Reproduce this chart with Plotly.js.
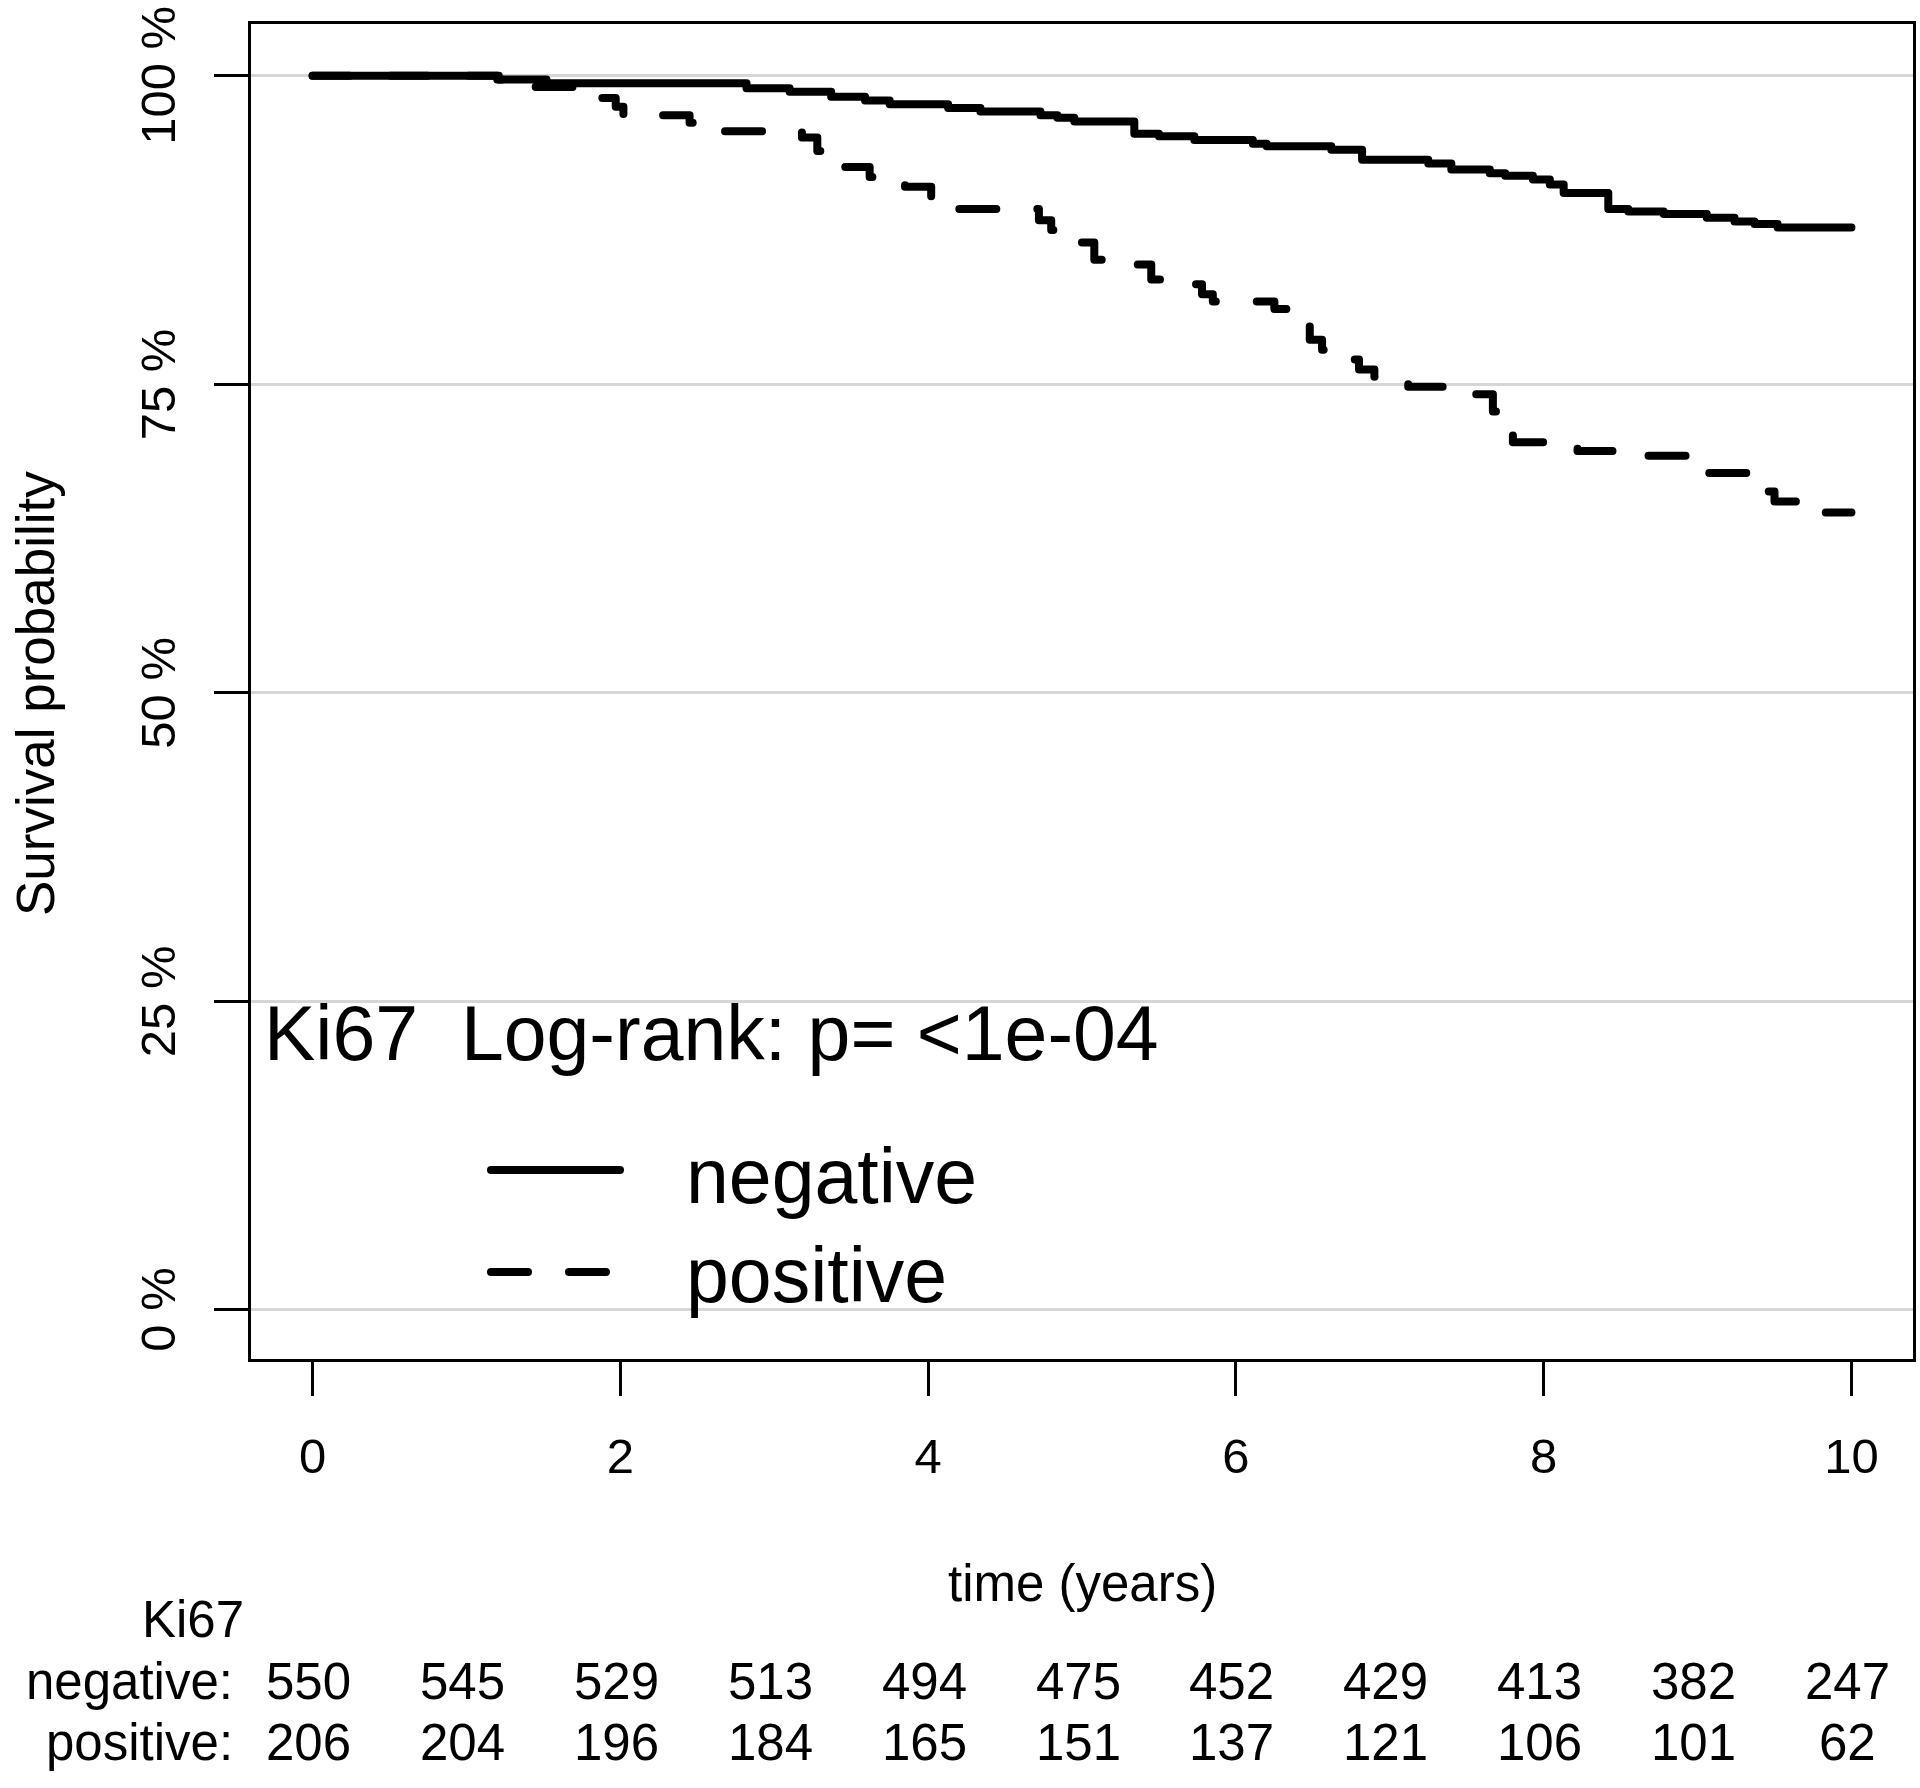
<!DOCTYPE html>
<html>
<head>
<meta charset="utf-8">
<script src="https://cdn.plot.ly/plotly-3.0.1.min.js"></script>
<style>
  html, body { margin: 0; padding: 0; background: #ffffff; }
  #chart { width: 1920px; height: 1788px; }
  #chart path.js-line, #chart .shapelayer path { stroke-linecap: round; stroke-linejoin: round; }
</style>
</head>
<body>
<div id="chart"></div>
<script>
// ---- Data ----
const negTime = [0, 1.21, 1.52, 2.82, 3.1, 3.37, 3.59, 3.75, 4.13, 4.34, 4.73, 4.84, 4.95, 5.34, 5.5, 5.73, 6.11, 6.2, 6.62, 6.82, 7.25, 7.4, 7.65, 7.75, 7.93, 8.04, 8.13, 8.42, 8.55, 8.78, 9.06, 9.24, 9.37, 9.52, 10];
const negSurv = [100, 99.7, 99.4, 99.0, 98.7, 98.3, 98.0, 97.7, 97.4, 97.1, 96.8, 96.6, 96.3, 95.3, 95.1, 94.8, 94.5, 94.3, 94.0, 93.2, 92.9, 92.4, 92.1, 91.9, 91.6, 91.2, 90.5, 89.2, 89.0, 88.8, 88.5, 88.2, 88.0, 87.7, 87.7];

const posTime = [0, 1.2, 1.45, 1.75, 1.97, 2.02, 2.45, 2.55, 3.18, 3.28, 3.38, 3.62, 3.85, 4.02, 4.1, 4.72, 4.8, 4.95, 5.08, 5.28, 5.45, 5.66, 5.78, 5.85, 6.25, 6.38, 6.48, 6.56, 6.72, 6.8, 6.9, 7.12, 7.4, 7.67, 7.76, 7.8, 8.22, 8.5, 8.95, 9.33, 9.5, 9.7, 10];
const posSurv = [100, 99.7, 99.1, 98.2, 97.5, 96.8, 96.2, 95.5, 95.0, 93.9, 92.6, 91.8, 91.0, 90.2, 89.2, 88.3, 87.5, 86.5, 85.1, 84.7, 83.5, 83.1, 82.3, 81.7, 81.1, 79.7, 78.6, 77.8, 77.0, 76.2, 75.6, 74.8, 74.2, 72.8, 71.9, 70.3, 69.6, 69.2, 67.8, 66.3, 65.5, 64.6, 64.6];

const xTickVals = [0, 2, 4, 6, 8, 10];
const yTickVals = [0, 25, 50, 75, 100];
const yTickText = ["0 %", "25 %", "50 %", "75 %", "100 %"];

const riskTimes = [0, 1, 2, 3, 4, 5, 6, 7, 8, 9, 10];
const riskNeg = [550, 545, 529, 513, 494, 475, 452, 429, 413, 382, 247];
const riskPos = [206, 204, 196, 184, 165, 151, 137, 121, 106, 101, 62];

const groupNames = ["negative", "positive"];
const variableName = "Ki67";
const pText = "Ki67  Log-rank: p= <1e-04";

// ---- Layout geometry ----
const W = 1920, H = 1788, ML = 251, MR = 7, MT = 24, MB = 429;
const PW = W - ML - MR, PH = H - MT - MB;
const px2x = px => (px - ML) / PW;
const py2y = py => (H - MB - py) / PH;

const FONT = "Liberation Sans, Arial, Helvetica, sans-serif";
const dashPat = "37px,41px";

const traces = [
  { x: negTime, y: negSurv, type: "scatter", mode: "lines", name: groupNames[0],
    line: { shape: "hv", color: "#000000", width: 8 }, hoverinfo: "skip" },
  { x: posTime, y: posSurv, type: "scatter", mode: "lines", name: groupNames[1],
    line: { shape: "hv", color: "#000000", width: 8, dash: dashPat }, hoverinfo: "skip" }
];

const annotations = [];
// y tick labels (rotated, centred on their ticks)
yTickVals.forEach((v, i) => {
  annotations.push({ text: yTickText[i], xref: "paper", yref: "y", x: px2x(158), y: v,
    xanchor: "center", yanchor: "middle", textangle: -90, showarrow: false,
    font: { family: FONT, size: 49, color: "#000" } });
});
// p-value text
annotations.push({ text: pText, xref: "paper", yref: "paper", x: px2x(262), y: py2y(1033),
  xanchor: "left", yanchor: "middle", showarrow: false, font: { family: FONT, size: 77, color: "#000" } });
// legend labels
annotations.push({ text: groupNames[0], xref: "paper", yref: "paper", x: px2x(684), y: py2y(1176),
  xanchor: "left", yanchor: "middle", showarrow: false, font: { family: FONT, size: 77, color: "#000" } });
annotations.push({ text: groupNames[1], xref: "paper", yref: "paper", x: px2x(684), y: py2y(1275),
  xanchor: "left", yanchor: "middle", showarrow: false, font: { family: FONT, size: 77, color: "#000" } });
// axis titles
annotations.push({ text: "time (years)", xref: "paper", yref: "paper", x: 0.5, y: py2y(1583),
  xanchor: "center", yanchor: "middle", showarrow: false, font: { family: FONT, size: 51, color: "#000" } });
annotations.push({ text: "Survival probability", xref: "paper", yref: "paper", x: px2x(35), y: py2y(694),
  xanchor: "center", yanchor: "middle", textangle: -90, showarrow: false, font: { family: FONT, size: 53, color: "#000" } });
// risk table
annotations.push({ text: variableName, xref: "paper", yref: "paper", x: px2x(246), y: py2y(1619),
  xanchor: "right", yanchor: "middle", showarrow: false, font: { family: FONT, size: 51, color: "#000" } });
annotations.push({ text: groupNames[0] + ":", xref: "paper", yref: "paper", x: px2x(235), y: py2y(1681),
  xanchor: "right", yanchor: "middle", showarrow: false, font: { family: FONT, size: 51, color: "#000" } });
annotations.push({ text: groupNames[1] + ":", xref: "paper", yref: "paper", x: px2x(235), y: py2y(1742),
  xanchor: "right", yanchor: "middle", showarrow: false, font: { family: FONT, size: 51, color: "#000" } });
riskTimes.forEach((t, i) => {
  annotations.push({ text: String(riskNeg[i]), xref: "x", yref: "paper", x: t, y: py2y(1681), xshift: -4,
    xanchor: "center", yanchor: "middle", showarrow: false, font: { family: FONT, size: 51, color: "#000" } });
  annotations.push({ text: String(riskPos[i]), xref: "x", yref: "paper", x: t, y: py2y(1742), xshift: -4,
    xanchor: "center", yanchor: "middle", showarrow: false, font: { family: FONT, size: 51, color: "#000" } });
});

const shapes = [
  { type: "line", xref: "paper", yref: "paper", x0: px2x(491), x1: px2x(620), y0: py2y(1170), y1: py2y(1170),
    line: { color: "#000", width: 8 } },
  { type: "line", xref: "paper", yref: "paper", x0: px2x(491), x1: px2x(606), y0: py2y(1272), y1: py2y(1272),
    line: { color: "#000", width: 8, dash: dashPat } }
];

const layout = {
  width: W, height: H,
  margin: { l: ML, r: MR, t: MT, b: MB, pad: 0 },
  paper_bgcolor: "#ffffff", plot_bgcolor: "#ffffff",
  showlegend: false,
  font: { family: FONT, color: "#000" },
  xaxis: {
    range: [-0.4, 10.4], tickmode: "array", tickvals: xTickVals, ticktext: xTickVals.map(String),
    ticks: "outside", ticklen: 34, tickwidth: 3, tickcolor: "#000",
    showline: true, linewidth: 3, linecolor: "#000", mirror: true,
    showgrid: false, zeroline: false, fixedrange: true,
    tickfont: { family: FONT, size: 49, color: "#000" }, ticklabelstandoff: 18
  },
  yaxis: {
    range: [-4, 104.2], tickmode: "array", tickvals: yTickVals, ticktext: yTickText,
    ticks: "outside", ticklen: 34, tickwidth: 3, tickcolor: "#000",
    showline: true, linewidth: 3, linecolor: "#000", mirror: true,
    showgrid: true, gridcolor: "#d6d6d6", gridwidth: 3, zeroline: false, fixedrange: true,
    showticklabels: false
  },
  annotations: annotations,
  shapes: shapes
};

Plotly.newPlot("chart", traces, layout, { staticPlot: true, displayModeBar: false });
</script>
</body>
</html>
